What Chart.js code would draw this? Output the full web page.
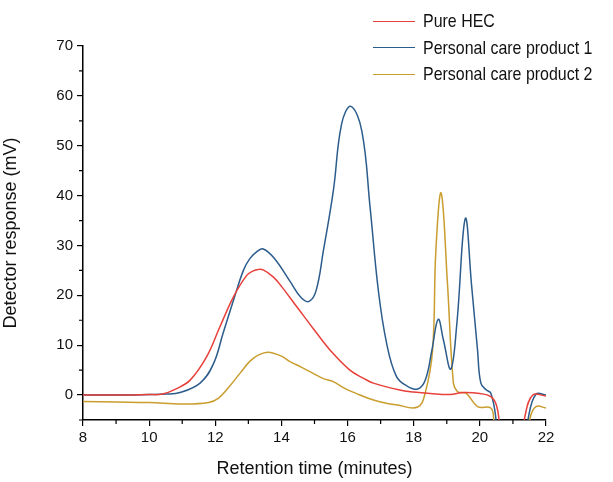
<!DOCTYPE html>
<html>
<head>
<meta charset="utf-8">
<script src="https://cdn.jsdelivr.net/npm/chart.js@4"></script>
<style>
  html, body { margin: 0; padding: 0; background: #fff; }
  #wrap { position: relative; width: 613px; height: 482px; }
  #legend { position: absolute; left: 373px; top: 8px; font-family: "Liberation Sans", sans-serif; font-size: 19px; color: #111; }
  .row { height: 26.5px; display: flex; align-items: center; white-space: nowrap; }
  .swatch { width: 42px; height: 0; border-top: 1.5px solid; margin-right: 8px; }
  .lbl { display: inline-block; transform: scaleX(0.84); transform-origin: left center; }
</style>
</head>
<body>
<div id="wrap">
  <canvas id="chromChart" width="613" height="482"></canvas>
  <div id="legend"></div>
</div>
<script>
// retention time (min) and detector response (mV)
let hecTime = [8, 9, 10, 10.4, 10.8, 11.24, 11.74, 12.14, 12.55, 12.95, 13.15, 13.3, 13.45, 13.75, 14, 14.5, 15, 15.5, 16.07, 16.5, 16.78, 17.58, 18, 18.5, 19.1, 19.5, 20, 20.33, 20.5, 20.6, 20.7, 21.2, 21.36, 21.6, 22];
let hecSignal = [0, 0, 0.1, 0.2, 1.2, 3, 7.7, 13.7, 19.7, 24, 24.9, 25.2, 25.1, 23.7, 21.8, 17.4, 13, 8.8, 5, 3.3, 2.4, 1, 0.6, 0.3, 0.1, 0.5, 0.3, -0.3, -2, -6, -12, -12, -4.4, 0, -0.2];

let pc1Time = [8, 9, 10, 10.5, 10.93, 11.54, 11.94, 12.24, 12.55, 12.85, 13.05, 13.25, 13.45, 13.8, 14.26, 14.6, 14.84, 15.05, 15.27, 15.57, 15.82, 16.1, 16.43, 16.68, 16.93, 17.18, 17.48, 17.8, 18.12, 18.35, 18.55, 18.74, 18.9, 19.12, 19.3, 19.56, 19.75, 19.93, 20.03, 20.2, 20.33, 20.48, 20.55, 21.35, 21.47, 21.7, 22];
let pc1Signal = [0, 0, 0.1, 0.2, 0.5, 2.4, 6.2, 12.5, 19, 25, 27.4, 28.7, 29.3, 27.3, 22.8, 19.5, 18.8, 21, 29, 41, 54.4, 57.9, 53, 37.7, 21, 10.4, 3.7, 1.8, 1.2, 3, 9, 15.2, 11, 5.2, 14, 35.4, 22, 9, 2.4, 1, 0.4, -4.4, -12, -12, -4.4, 0.2, 0];

let pc2Time = [8, 9, 10, 11, 11.8, 12.1, 12.4, 12.75, 13.05, 13.3, 13.6, 14, 14.26, 14.6, 15, 15.27, 15.57, 15.9, 16.27, 16.6, 17, 17.5, 18.12, 18.35, 18.57, 18.67, 18.83, 19.02, 19.2, 19.32, 19.45, 19.6, 19.93, 20.33, 20.42, 20.5, 21.4, 21.52, 21.7, 22];
let pc2Signal = [-1.3, -1.4, -1.5, -1.8, -1.5, -0.6, 1.5, 4.4, 6.8, 8, 8.6, 7.8, 6.7, 5.6, 4.2, 3.3, 2.7, 1.4, 0.3, -0.6, -1.4, -2, -2.4, 0.5, 9, 29, 40.5, 22.4, 2.4, 0.7, 0.5, 0.3, -2.3, -2.6, -5, -12, -12, -4.6, -2.3, -2.6];

let seriesNames = ['Pure HEC', 'Personal care product 1', 'Personal care product 2'];
let seriesColors = ['#e8403a', '#2b5c8c', '#c99d2e'];
let yTicks = [0, 10, 20, 30, 40, 50, 60, 70];

const toPoints = (xs, ys) => xs.map((x, i) => ({ x: x, y: ys[i] }));

let fontFam = '"Liberation Sans", sans-serif';

// small ticks between the labelled ones
const minorTicks = {
  id: 'minorTicks',
  afterDraw(chart) {
    let c = chart.ctx;
    let xs = chart.scales.x, ys = chart.scales.y;
    c.save();
    c.strokeStyle = '#000';
    c.lineWidth = 1.2;
    c.beginPath();
    for (let v = 9; v < 22; v += 2) {
      let px = xs.getPixelForValue(v);
      c.moveTo(px, ys.bottom);
      c.lineTo(px, ys.bottom + 4);
    }
    for (let v = -5; v < 70; v += 10) {
      let py = ys.getPixelForValue(v);
      c.moveTo(xs.left, py);
      c.lineTo(xs.left - 4, py);
    }
    c.stroke();
    c.restore();
  }
};

var ctx = document.getElementById('chromChart').getContext('2d');
let datasets = [
  toPoints(hecTime, hecSignal),
  toPoints(pc1Time, pc1Signal),
  toPoints(pc2Time, pc2Signal)
].map((pts, i) => ({
  label: seriesNames[i],
  data: pts,
  borderColor: seriesColors[i],
  borderWidth: 1.5,
  pointRadius: 0,
  tension: 0.4,
  fill: false
}));

new Chart(ctx, {
  type: 'line',
  data: { datasets: datasets },
  plugins: [minorTicks],
  options: {
    responsive: false,
    animation: false,
    layout: { padding: { left: 0, right: 67, top: 46, bottom: 0 } },
    plugins: { legend: { display: false }, tooltip: { enabled: false } },
    scales: {
      x: {
        type: 'linear', min: 8, max: 22,
        border: { color: '#000', width: 1.5 },
        grid: { drawOnChartArea: false, color: '#000', tickLength: 6, lineWidth: 1.2 },
        ticks: { stepSize: 2, color: '#111', font: { family: fontFam, size: 15 }, padding: 3, maxRotation: 0 },
        title: { display: true, text: 'Retention time (minutes)', color: '#111', font: { family: fontFam, size: 18 }, padding: { top: 14, bottom: 2 } },
        afterFit: (s) => { s.height = 62; }
      },
      y: {
        type: 'linear', min: -5, max: 70,
        border: { color: '#000', width: 1.5 },
        grid: { drawOnChartArea: false, color: '#000', tickLength: 6, lineWidth: 1.2 },
        ticks: { color: '#111', font: { family: fontFam, size: 15 }, padding: 4 },
        afterBuildTicks: (s) => { s.ticks = yTicks.map(v => ({ value: v })); },
        title: { display: true, text: 'Detector response (mV)', color: '#111', font: { family: fontFam, size: 18 }, padding: { top: 0, bottom: 14 } },
        afterFit: (s) => { s.width = 83; }
      }
    }
  }
});

let legendBox = document.getElementById('legend');
seriesNames.forEach((name, i) => {
  let row = document.createElement('div');
  row.className = 'row';
  row.innerHTML = '<span class="swatch" style="border-color:' + seriesColors[i] + '"></span><span class="lbl">' + name + '</span>';
  legendBox.appendChild(row);
});
</script>
</body>
</html>
